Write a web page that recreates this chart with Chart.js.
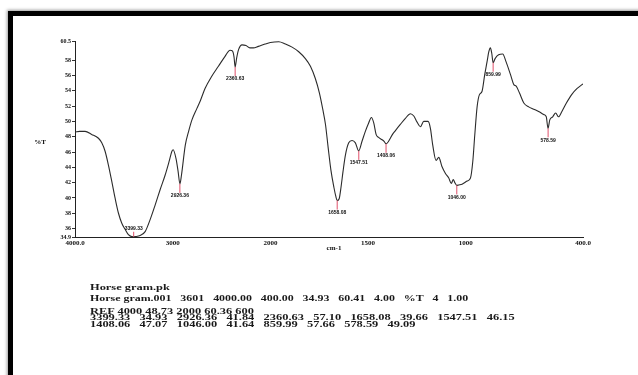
<!DOCTYPE html>
<html>
<head>
<meta charset="utf-8">
<script src="https://cdn.jsdelivr.net/npm/chart.js@4.4.0/dist/chart.umd.min.js"></script>
<style>
  body { margin: 0; background: #fff; width: 638px; height: 375px; overflow: hidden; position: relative; }
  #frame { position: absolute; left: 8px; top: 11px; width: 700px; height: 400px; border-top: 5px solid #000; border-left: 5px solid #000; box-shadow: -1px -1px 3px rgba(0,0,0,0.4); }
  #wrap { position: absolute; left: 0; top: 0; width: 638px; height: 375px; }
  .info { position: absolute; left: 90px; font: bold 8px "Liberation Serif", serif; white-space: pre; transform: scaleX(1.55); transform-origin: 0 50%; color: #1a1a1a; line-height: 8px; }
</style>
</head>
<body>
<div id="frame"></div>
<div id="wrap"><canvas id="ftir" width="638" height="375"></canvas></div>
<div class="info" id="l1" style="top:284px"></div>
<div class="info" id="l2" style="top:295px; transform: scaleX(1.49)"></div>
<div class="info" id="l3" style="top:308px"></div>
<div class="info" id="l4" style="top:314px"></div>
<div class="info" id="l5" style="top:321px"></div>
<script>
// spectrum (wavenumber cm-1 / %T)
const wavenumbers = [4000, 3950, 3897, 3829, 3760, 3726, 3692, 3658, 3624, 3590, 3555, 3521, 3487, 3453, 3420, 3399, 3384, 3333, 3282, 3230, 3179, 3128, 3077, 3036, 3008, 2995, 2967, 2945, 2926, 2910, 2871, 2837, 2803, 2752, 2717, 2669, 2600, 2532, 2464, 2413, 2389, 2372, 2361, 2345, 2325, 2290, 2250, 2210, 2174, 2123, 2054, 2000,
  1957, 1923, 1889, 1855, 1821, 1795, 1770, 1749, 1732, 1718, 1704, 1690, 1675, 1665, 1658, 1648, 1638, 1628, 1616, 1599, 1582, 1565, 1548, 1531, 1514, 1497, 1483, 1471, 1459, 1446, 1428, 1418, 1408, 1395, 1375, 1360, 1335, 1309, 1283, 1266, 1249, 1232, 1215, 1193, 1181, 1169, 1152, 1138, 1122, 1104, 1087, 1074, 1064, 1056, 1046, 1036, 1019,
  993, 976, 964, 954, 942, 930, 917, 903, 891, 882, 874, 867, 860, 850, 832, 811, 794, 771, 754, 742, 725, 703, 678, 652, 627, 601, 588, 579, 570, 555, 540, 525, 508, 485, 458, 430, 405, 400];
const transmittance = [48.6, 48.7, 48.7, 48.3, 47.8, 47.2, 46.1, 44.3, 42.2, 40.0, 38.0, 36.7, 35.9, 35.2, 34.95, 34.93, 34.95, 35.1, 35.6, 37.2, 39.1, 41.1, 43.0, 44.8, 46.1, 46.3, 45.2, 43.5, 41.84, 43.0, 46.9, 48.7, 50.2, 51.7, 52.7, 54.3, 55.9, 57.2, 58.5, 59.3, 59.2, 58.4, 57.1, 58.3, 59.4, 60.0, 59.9, 59.6, 59.6, 59.8, 60.1, 60.3,
  60.4, 60.1, 59.7, 59.1, 58.2, 57.2, 55.6, 53.7, 51.6, 49.6, 46.5, 43.6, 41.4, 40.2, 39.66, 39.9, 41.5, 43.5, 45.6, 47.2, 47.5, 47.2, 46.15, 47.4, 48.7, 49.8, 50.5, 49.8, 48.3, 47.9, 47.6, 47.4, 47.07, 47.4, 48.3, 48.8, 49.6, 50.4, 51.0, 50.7, 49.9, 49.3, 50.0, 50.0, 49.1, 46.9, 44.9, 45.3, 44.1, 43.2, 42.6, 41.9, 42.4, 42.0, 41.64, 41.7, 41.8,
  42.2, 42.6, 44.8, 48.2, 51.9, 53.5, 53.9, 56.1, 57.8, 59.1, 59.6, 58.9, 57.66, 58.2, 58.7, 58.8, 57.8, 56.1, 54.8, 54.6, 53.7, 52.4, 51.9, 51.6, 51.3, 50.9, 50.6, 49.09, 50.2, 50.6, 51.1, 50.6, 51.3, 52.4, 53.5, 54.3, 54.8, 54.9];

// picked peaks
const peakWn = [3399.33, 2926.36, 2360.63, 1658.08, 1547.51, 1408.06, 1046.00, 859.99, 578.59];
const peakT = [34.93, 41.84, 57.10, 39.66, 46.15, 47.07, 41.64, 57.66, 49.09];

const xTickWn = [4000, 3000, 2000, 1500, 1000, 400];
const xTickText = ['4000.0', '3000', '2000', '1500', '1000', '400.0'];
const yTicks = [60.5, 58, 56, 54, 52, 50, 48, 46, 44, 42, 40, 38, 36, 34.9];

// the x axis changes scale at 2000 cm-1 (1000 per unit above, 500 per unit below)
function pos(wn) {
    return wn >= 2000 ? (4000 - wn) / 2 : 1000 + (2000 - wn);
}

document.getElementById('l1').textContent = 'Horse gram.pk';
document.getElementById('l2').textContent = 'Horse gram.001   3601   4000.00   400.00   34.93   60.41   4.00   %T   4   1.00';
document.getElementById('l3').textContent = 'REF 4000 48.73 2000 60.36 600';
const pairs = peakWn.map((w, i) => w.toFixed(2) + '   ' + peakT[i].toFixed(2));
document.getElementById('l4').textContent = pairs.slice(0, 5).join('   ');
document.getElementById('l5').textContent = pairs.slice(5).join('   ');

const labelsPlugin = {
    id: 'labels',
    afterDatasetsDraw(chart) {
        const ctx = chart.ctx;
        const xs = chart.scales.x;
        const ys = chart.scales.y;
        ctx.save();
        ctx.font = 'bold 5px "Liberation Sans", sans-serif';
        ctx.textAlign = 'center';
        ctx.textBaseline = 'middle';
        peakWn.forEach((w, i) => {
            const px = xs.getPixelForValue(pos(w));
            const py = ys.getPixelForValue(peakT[i]);
            let ly = py + 12;
            let top = py, bot = ly - 3;
            if (ly > chart.chartArea.bottom - 3) {
                ly = py - 8;
                top = ly + 3; bot = py;
            }
            ctx.strokeStyle = '#e0506a';
            ctx.lineWidth = 1;
            ctx.beginPath();
            ctx.moveTo(px, top);
            ctx.lineTo(px, bot);
            ctx.stroke();
            ctx.fillStyle = '#111';
            ctx.fillText(w.toFixed(2), px, ly);
        });
        ctx.font = 'bold 7px "Liberation Serif", serif';
        ctx.fillText('%T', 40, 142);
        ctx.fillText('cm-1', 334, 248);
        ctx.restore();
    }
};

new Chart(document.getElementById('ftir'), {
    type: 'line',
    data: {
        datasets: [{
            data: wavenumbers.map((w, i) => ({ x: pos(w), y: transmittance[i] })),
            borderColor: '#2b2b2b',
            borderWidth: 1.1,
            pointRadius: 0,
            cubicInterpolationMode: 'monotone',
            fill: false
        }]
    },
    options: {
        responsive: false,
        animation: false,
        layout: { padding: { left: 0, top: 41, right: 55, bottom: 0 } },
        plugins: { legend: { display: false }, tooltip: { enabled: false } },
        scales: {
            x: {
                type: 'linear',
                min: 0,
                max: 2600,
                afterBuildTicks: axis => { axis.ticks = xTickWn.map(w => ({ value: pos(w) })); },
                afterFit: axis => { axis.height = 138; },
                ticks: {
                    autoSkip: false,
                    maxRotation: 0,
                    padding: 2,
                    color: '#111',
                    font: { family: 'Liberation Serif', size: 7, weight: 'bold' },
                    callback: (v) => xTickText[xTickWn.findIndex(w => pos(w) === v)]
                },
                grid: { drawOnChartArea: false, drawTicks: false },
                border: { display: true, color: '#222', width: 1 }
            },
            y: {
                min: 34.9,
                max: 60.5,
                afterBuildTicks: axis => { axis.ticks = yTicks.map(v => ({ value: v })); },
                afterFit: axis => { axis.width = 75; },
                ticks: {
                    autoSkip: false,
                    padding: 1,
                    color: '#111',
                    font: { family: 'Liberation Serif', size: 6, weight: 'bold' },
                    callback: v => String(v)
                },
                grid: { drawOnChartArea: false, drawTicks: true, tickLength: 3, color: '#333' },
                border: { display: true, color: '#222', width: 1 }
            }
        }
    },
    plugins: [labelsPlugin]
});
</script>
</body>
</html>
